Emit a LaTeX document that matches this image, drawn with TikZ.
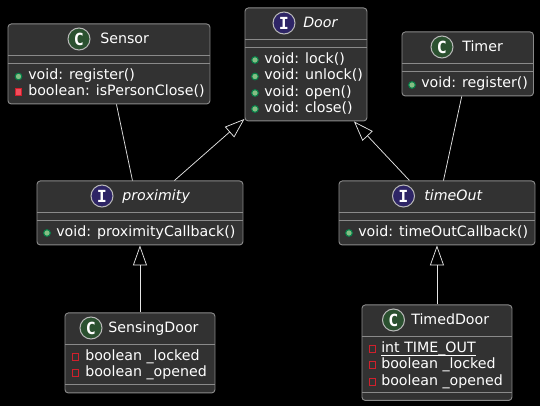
\documentclass[tikz,border=0pt]{standalone}
\usepackage{fontspec}
\setmainfont{DejaVu Sans}
\newfontfamily\iconfont{DejaVu Sans Mono}
\usepackage{xcolor}
\usetikzlibrary{arrows.meta,positioning,calc}
\definecolor{boxfill}{HTML}{323232}
\definecolor{boxline}{HTML}{8A8A8A}
\definecolor{classdot}{HTML}{2B5130}
\definecolor{ifacedot}{HTML}{2E2566}
\definecolor{pubfill}{HTML}{84BE84}
\definecolor{publine}{HTML}{038048}
\definecolor{privfill}{HTML}{F24D5C}
\definecolor{privline}{HTML}{D0202C}
\begin{document}
\begin{tikzpicture}[x = .75pt, y = -.75pt,
  box/.style = {draw = boxline, fill = boxfill, line width = .7pt, rounded corners = 2.5pt, anchor = north west, inner sep = 0pt},
  sep/.style = {draw = boxline, line width = .7pt},
  txt/.style = {anchor = base west, inner sep = 0pt, text = white, font = \fontsize{10.65}{12}\selectfont},
  ital/.style = {txt, font = \fontsize{10.65}{12}\selectfont\itshape},
  icon/.style = {circle, draw = boxline!60!white, line width = .75pt, minimum size = 16.5pt, inner sep = 0pt, text = white, font = \fontsize{12.5}{12}\selectfont\iconfont\bfseries},
  cdot/.style = {icon, fill = classdot},
  idot/.style = {icon, fill = ifacedot},
  pub/.style = {circle, draw = publine, fill = pubfill, line width = .75pt, minimum size = 5pt, inner sep = 0pt},
  privm/.style = {rectangle, draw = privline, fill = privfill, line width = .75pt, minimum size = 5pt, inner sep = 0pt},
  privf/.style = {rectangle, draw = privline, line width = .75pt, minimum size = 5pt, inner sep = 0pt},
  link/.style = {draw = white!90!black, line width = .55pt},
  inherit/.style = {link, -{Triangle[open, length = 15pt, width = 10.5pt]}}]
\fill[black] (0,0) rectangle (540,406);
\useasboundingbox (0,0) rectangle (540,406);

% boxes
\node[box, minimum width = 202*.75pt, minimum height = 80*.75pt] (sensor) at (7.5,23.5) {};
\node[box, minimum width = 122*.75pt, minimum height = 113*.75pt] (door) at (244.5,7.5) {};
\node[box, minimum width = 131.5*.75pt, minimum height = 64*.75pt] (timer) at (401.5,31.5) {};
\node[box, minimum width = 206*.75pt, minimum height = 64*.75pt] (proximity) at (36.5,180.5) {};
\node[box, minimum width = 196*.75pt, minimum height = 64*.75pt] (timeout) at (338.5,180.5) {};
\node[box, minimum width = 150*.75pt, minimum height = 80*.75pt] (sensing) at (64.5,312.5) {};
\node[box, minimum width = 150*.75pt, minimum height = 95.5*.75pt] (timed) at (361.5,304.5) {};

% compartments
\draw[sep] (sensor.west |- 0,55) -- (sensor.east |- 0,55);
\draw[sep] (sensor.west |- 0,63) -- (sensor.east |- 0,63);
\draw[sep] (door.west |- 0,39) -- (door.east |- 0,39);
\draw[sep] (door.west |- 0,47) -- (door.east |- 0,47);
\draw[sep] (timer.west |- 0,63) -- (timer.east |- 0,63);
\draw[sep] (timer.west |- 0,71) -- (timer.east |- 0,71);
\draw[sep] (proximity.west |- 0,212.5) -- (proximity.east |- 0,212.5);
\draw[sep] (proximity.west |- 0,220.5) -- (proximity.east |- 0,220.5);
\draw[sep] (timeout.west |- 0,212.5) -- (timeout.east |- 0,212.5);
\draw[sep] (timeout.west |- 0,220.5) -- (timeout.east |- 0,220.5);
\draw[sep] (sensing.west |- 0,344.5) -- (sensing.east |- 0,344.5);
\draw[sep] (sensing.west |- 0,384.5) -- (sensing.east |- 0,384.5);
\draw[sep] (timed.west |- 0,336.5) -- (timed.east |- 0,336.5);
\draw[sep] (timed.west |- 0,392.5) -- (timed.east |- 0,392.5);

% Sensor
\node[cdot] (sensorIcon) at (79,39) {C};
\node[txt] (sensorName) at (100,44) {Sensor};
\node[pub] (sensorDotA) at (18.5,76.5) {};
\node[txt] (sensorA) at (28,80) {void: register()};
\node[privm] (sensorDotB) at (18.5,92) {};
\node[txt] (sensorB) at (28,96) {boolean: isPersonClose()};

% Door
\node[idot] (doorIcon) at (284,23) {I};
\node[ital] (doorName) at (303,28) {Door};
\node[pub] (doorDotA) at (255,60) {};
\node[txt] (doorA) at (264,64) {void: lock()};
\node[pub] (doorDotB) at (255,76.5) {};
\node[txt] (doorB) at (264,80) {void: unlock()};
\node[pub] (doorDotC) at (255,93) {};
\node[txt] (doorC) at (264,97) {void: open()};
\node[pub] (doorDotD) at (255,109) {};
\node[txt] (doorD) at (264,113) {void: close()};

% Timer
\node[cdot] (timerIcon) at (442,47) {C};
\node[txt] (timerName) at (462,52) {Timer};
\node[pub] (timerDotA) at (412,85) {};
\node[txt] (timerA) at (421,88) {void: register()};

% proximity
\node[idot] (proximityIcon) at (102,196) {I};
\node[ital] (proximityName) at (122,201) {proximity};
\node[pub] (proximityDotA) at (47,233) {};
\node[txt] (proximityA) at (56,237) {void: proximityCallback()};

% timeOut
\node[idot] (timeoutIcon) at (403.5,196) {I};
\node[ital] (timeoutName) at (424,201) {timeOut};
\node[pub] (timeoutDotA) at (349,233) {};
\node[txt] (timeoutA) at (358,237) {void: timeOutCallback()};

% SensingDoor
\node[cdot] (sensingIcon) at (91,328) {C};
\node[txt] (sensingName) at (108,333) {SensingDoor};
\node[privf] (sensingDotA) at (75.5,357) {};
\node[txt] (sensingA) at (85,361) {boolean \_locked};
\node[privf] (sensingDotB) at (75.5,373) {};
\node[txt] (sensingB) at (85,377) {boolean \_opened};

% TimedDoor
\node[cdot] (timedIcon) at (393.5,320) {C};
\node[txt] (timedName) at (411,325) {TimedDoor};
\node[privf] (timedDotA) at (372.5,349) {};
\node[txt] (timedA) at (381,353) {int TIME\_OUT};
\draw[draw = white, line width = .7pt] (timedA.base west) ++(0,2.5) -- ++(95,0);
\node[privf] (timedDotB) at (372.5,365) {};
\node[txt] (timedB) at (381,369) {boolean \_locked};
\node[privf] (timedDotC) at (372.5,382) {};
\node[txt] (timedC) at (381,386) {boolean \_opened};

% connectors
\draw[link] ($(sensor.south)+(7.5,0)$) -- ($(proximity.north)+(-7.5,0)$);
\draw[link] ($(timer.south)+(-6,0)$) -- ($(timeout.north)+(6.5,0)$);
\draw[inherit] ($(proximity.north)+(34.5,0)$) -- ($(door.south west)+(0,-2.5)$);
\draw[inherit] ($(timeout.north)+(-27.5,0)$) -- ($(door.south)+(48,0)$);
\draw[inherit] (sensing.north -| proximity.south) -- (proximity.south);
\draw[inherit] (timed.north -| timeout.south) -- (timeout.south);
\end{tikzpicture}
\end{document}
